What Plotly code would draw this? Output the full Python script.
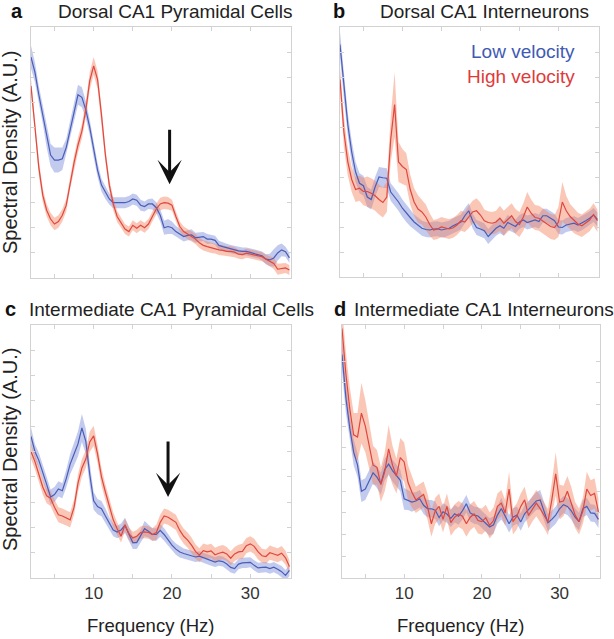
import plotly.graph_objects as go

# ---------------- data ----------------
freq = [2.0 + 0.5 * i for i in range(67)]  # 2.0 ... 35.0 Hz

a_low = [8.8, 8.2, 7.3, 6.5, 5.6, 4.9, 4.7, 4.7, 4.75, 5.2,
         5.9, 6.6, 7.3, 7.2, 6.7, 6.0, 5.1, 4.3, 3.7, 3.4,
         3.15, 3.0, 3.0, 3.0, 3.0, 3.05, 3.15, 3.1, 2.9, 2.85,
         2.95, 2.95, 2.8, 2.5, 2.0, 2.05, 2.0, 1.85, 1.75, 1.65,
         1.7, 1.72, 1.6, 1.62, 1.65, 1.55, 1.55, 1.5, 1.3, 1.25,
         1.2, 1.15, 1.12, 1.08, 1.06, 1.06, 1.02, 0.98, 0.95, 0.88,
         0.75, 0.72, 0.8, 1.0, 1.12, 1.05, 0.8]
a_low_sem = [0.45, 0.4, 0.35, 0.35, 0.4, 0.45, 0.5, 0.5, 0.45, 0.35,
             0.35, 0.35, 0.4, 0.4, 0.35, 0.3, 0.3, 0.28, 0.25, 0.25,
             0.22, 0.22, 0.22, 0.22, 0.22, 0.22, 0.22, 0.22, 0.22, 0.2,
             0.2, 0.22, 0.22, 0.25, 0.28, 0.3, 0.25, 0.22, 0.2, 0.2,
             0.2, 0.22, 0.2, 0.18, 0.18, 0.2, 0.18, 0.18, 0.18, 0.16,
             0.16, 0.16, 0.16, 0.16, 0.16, 0.16, 0.16, 0.16, 0.16, 0.18,
             0.2, 0.25, 0.35, 0.3, 0.25, 0.2, 0.2]
a_high = [7.65, 6.1, 4.4, 3.3, 2.7, 2.35, 2.15, 2.25, 2.5, 2.9,
          3.8, 4.6, 5.3, 5.85, 6.7, 7.85, 8.45, 7.9, 6.5, 4.9,
          3.7, 2.95, 2.45, 2.2, 1.95, 1.85, 2.1, 1.98, 2.1, 2.0,
          2.15, 2.45, 2.75, 2.95, 3.0, 2.98, 2.9, 2.45, 2.05, 1.85,
          1.75, 1.65, 1.55, 1.4, 1.3, 1.25, 1.2, 1.18, 1.12, 1.1,
          1.06, 1.06, 1.03, 0.95, 0.93, 0.99, 0.95, 0.92, 0.88, 0.85,
          0.75, 0.65, 0.58, 0.35, 0.38, 0.4, 0.32]
a_high_sem = [0.3, 0.3, 0.3, 0.28, 0.25, 0.25, 0.25, 0.25, 0.25, 0.25,
              0.25, 0.28, 0.3, 0.3, 0.32, 0.35, 0.35, 0.35, 0.3, 0.28,
              0.25, 0.25, 0.22, 0.2, 0.2, 0.2, 0.2, 0.2, 0.2, 0.2,
              0.2, 0.2, 0.22, 0.25, 0.25, 0.25, 0.22, 0.2, 0.2, 0.2,
              0.2, 0.2, 0.2, 0.2, 0.2, 0.2, 0.2, 0.2, 0.2, 0.2,
              0.2, 0.2, 0.2, 0.18, 0.18, 0.18, 0.18, 0.18, 0.18, 0.18,
              0.18, 0.2, 0.22, 0.22, 0.22, 0.2, 0.2]

b_low = [9.3, 7.6, 6.1, 5.0, 4.2, 3.75, 3.65, 3.2, 3.1, 3.6,
         4.0, 3.97, 3.95, 3.4, 3.2, 3.0, 2.75, 2.55, 2.38, 2.2,
         2.08, 1.95, 1.9, 1.88, 1.92, 1.93, 1.88, 1.9, 1.95, 2.05,
         2.12, 2.2, 2.45, 2.65, 2.25, 1.98, 1.92, 1.85, 1.62, 1.78,
         1.95, 2.05, 1.95, 2.18, 2.1, 2.02, 2.2, 2.28, 2.18, 2.22,
         2.28, 2.22, 2.45, 2.45, 2.35, 2.25, 2.0, 1.98, 2.08, 2.12,
         2.15, 2.08, 2.15, 2.25, 2.35, 2.48, 2.3]
b_low_sem = [0.5, 0.5, 0.45, 0.45, 0.4, 0.4, 0.4, 0.4, 0.4, 0.4,
             0.4, 0.4, 0.4, 0.35, 0.35, 0.35, 0.35, 0.35, 0.35, 0.3,
             0.3, 0.3, 0.3, 0.3, 0.3, 0.3, 0.3, 0.3, 0.3, 0.3,
             0.3, 0.3, 0.3, 0.3, 0.3, 0.3, 0.3, 0.3, 0.3, 0.3,
             0.3, 0.3, 0.3, 0.3, 0.3, 0.28, 0.28, 0.28, 0.28, 0.28,
             0.28, 0.28, 0.28, 0.28, 0.28, 0.28, 0.28, 0.28, 0.28, 0.28,
             0.28, 0.28, 0.28, 0.28, 0.28, 0.28, 0.28]
b_high = [7.9, 5.8, 4.6, 3.9, 3.5, 3.55, 3.42, 3.42, 3.35, 3.25,
          3.1, 2.98, 3.2, 5.5, 6.9, 4.6, 4.42, 4.3, 3.5, 3.0,
          2.72, 2.6, 2.4, 2.1, 1.88, 1.92, 2.0, 1.95, 1.92, 1.97,
          2.08, 2.25, 2.2, 2.4, 2.6, 2.65, 2.48, 2.25, 2.18, 2.15,
          2.2, 2.35, 2.15, 2.3, 2.45, 2.22, 2.1, 2.4, 2.8, 2.55,
          2.38, 2.35, 2.25, 2.12, 2.02, 1.98, 2.2, 3.0, 2.65, 2.42,
          2.25, 2.12, 2.05, 2.15, 2.28, 2.5, 2.25]
b_high_sem = [0.5, 0.6, 0.55, 0.5, 0.5, 0.5, 0.55, 0.6, 0.6, 0.6,
              0.6, 0.6, 0.6, 0.9, 1.3, 0.8, 0.7, 0.65, 0.6, 0.55,
              0.55, 0.5, 0.5, 0.45, 0.4, 0.4, 0.4, 0.4, 0.4, 0.4,
              0.4, 0.4, 0.4, 0.45, 0.45, 0.5, 0.5, 0.45, 0.45, 0.45,
              0.45, 0.5, 0.5, 0.5, 0.5, 0.5, 0.5, 0.55, 0.6, 0.55,
              0.5, 0.5, 0.5, 0.5, 0.5, 0.5, 0.6, 0.8, 0.6, 0.5,
              0.5, 0.45, 0.45, 0.45, 0.45, 0.45, 0.45]

c_low = [5.6, 5.0, 4.65, 4.2, 3.7, 3.2, 3.3, 3.52, 3.45, 3.93,
         4.5, 4.9, 5.3, 5.93, 5.4, 4.1, 3.05, 2.82, 2.74, 2.45,
         2.15, 1.9, 1.82, 1.9, 2.08, 1.75, 1.4, 1.4, 1.65, 1.95,
         1.85, 1.72, 1.72, 1.88, 1.72, 1.5, 1.3, 1.14, 1.03, 0.97,
         0.93, 0.88, 0.83, 0.86, 0.8, 0.73, 0.68, 0.63, 0.68, 0.65,
         0.55, 0.42, 0.37, 0.55, 0.6, 0.6, 0.62, 0.5, 0.4, 0.42,
         0.43, 0.37, 0.43, 0.35, 0.25, 0.1, 0.3]
c_low_sem = [0.35, 0.3, 0.3, 0.3, 0.3, 0.3, 0.3, 0.3, 0.3, 0.35,
             0.4, 0.45, 0.5, 0.55, 0.5, 0.45, 0.35, 0.3, 0.3, 0.3,
             0.25, 0.25, 0.25, 0.25, 0.3, 0.3, 0.25, 0.25, 0.25, 0.3,
             0.25, 0.25, 0.25, 0.25, 0.25, 0.22, 0.22, 0.22, 0.22, 0.2,
             0.2, 0.2, 0.2, 0.2, 0.2, 0.2, 0.2, 0.2, 0.2, 0.2,
             0.2, 0.2, 0.2, 0.2, 0.2, 0.2, 0.2, 0.2, 0.2, 0.2,
             0.2, 0.2, 0.2, 0.2, 0.22, 0.22, 0.22]
c_high = [5.0, 4.6, 4.1, 3.6, 3.25, 3.15, 2.8, 2.5, 2.45, 2.38,
          2.3, 2.8, 3.75, 4.35, 4.7, 5.38, 5.62, 4.9, 4.0, 3.4,
          2.8, 2.3, 1.95, 1.65, 2.1, 1.75, 1.58, 1.65, 1.8, 1.82,
          1.8, 1.72, 1.8, 2.2, 2.45, 2.4, 2.3, 2.2, 1.88, 1.65,
          1.5, 1.3, 1.05, 0.9, 1.08, 1.03, 1.07, 0.92, 0.98, 1.02,
          0.95, 0.78, 0.95, 1.03, 1.05, 1.28, 1.35, 1.25, 1.03, 0.88,
          0.85, 1.0, 0.95, 0.9, 0.98, 0.8, 0.45]
c_high_sem = [0.3, 0.3, 0.3, 0.3, 0.3, 0.3, 0.3, 0.3, 0.3, 0.3,
              0.3, 0.3, 0.35, 0.35, 0.35, 0.4, 0.4, 0.35, 0.35, 0.3,
              0.3, 0.3, 0.25, 0.25, 0.25, 0.25, 0.25, 0.25, 0.25, 0.25,
              0.25, 0.25, 0.3, 0.3, 0.3, 0.3, 0.3, 0.3, 0.3, 0.3,
              0.3, 0.3, 0.28, 0.28, 0.28, 0.28, 0.28, 0.28, 0.28, 0.28,
              0.28, 0.28, 0.28, 0.28, 0.3, 0.3, 0.3, 0.3, 0.3, 0.28,
              0.28, 0.28, 0.28, 0.28, 0.28, 0.28, 0.25]

d_low = [10.3, 8.3, 6.9, 5.8, 5.2, 4.0, 4.1, 4.5, 4.85, 4.65,
         4.35, 5.0, 5.25, 4.95, 4.7, 4.5, 3.65, 3.58, 3.5, 3.55,
         3.65, 3.35, 3.2, 3.19, 3.12, 2.78, 3.05, 2.95, 2.75, 2.96,
         2.85, 3.1, 3.42, 3.0, 2.9, 2.86, 2.7, 2.55, 2.35, 2.45,
         2.9, 3.2, 2.85, 2.5, 2.8, 2.9, 2.58, 2.96, 3.15, 3.35,
         3.55, 3.6, 3.05, 2.55, 2.7, 2.9, 3.19, 3.38, 3.3, 3.1,
         2.8, 2.6, 3.2, 3.3, 3.0, 2.98, 2.7]
d_low_sem = [0.8, 0.7, 0.6, 0.6, 0.55, 0.5, 0.5, 0.5, 0.5, 0.5,
             0.5, 0.5, 0.5, 0.5, 0.5, 0.5, 0.5, 0.45, 0.45, 0.4,
             0.4, 0.4, 0.4, 0.4, 0.4, 0.4, 0.4, 0.4, 0.4, 0.4,
             0.4, 0.4, 0.4, 0.4, 0.4, 0.4, 0.4, 0.4, 0.4, 0.4,
             0.4, 0.5, 0.4, 0.4, 0.4, 0.4, 0.4, 0.4, 0.4, 0.4,
             0.4, 0.45, 0.4, 0.4, 0.4, 0.4, 0.4, 0.4, 0.4, 0.4,
             0.4, 0.4, 0.4, 0.4, 0.4, 0.4, 0.4]
d_high = [11.5, 9.4, 7.8, 6.6, 6.5, 7.6, 7.0, 6.1, 5.2, 5.1,
          4.3, 4.9, 5.95, 5.2, 4.7, 5.55, 5.35, 4.4, 3.95, 3.6,
          3.73, 3.85, 3.3, 2.5, 3.1, 3.3, 2.7, 3.3, 2.55, 2.8,
          2.95, 2.85, 2.5, 2.8, 2.95, 2.65, 2.6, 2.78, 2.42, 2.65,
          3.3, 3.45, 3.0, 4.1, 2.6, 2.85, 3.3, 3.6, 2.88, 3.2,
          3.45, 3.2, 2.9, 2.58, 3.6, 4.8, 3.5, 3.55, 4.0, 3.5,
          2.9, 2.6, 3.1, 4.1, 3.8, 3.9, 3.05]
d_high_sem = [1.0, 1.0, 1.0, 1.0, 1.1, 1.4, 1.2, 1.0, 0.9, 0.8,
              0.8, 0.9, 1.1, 0.9, 0.8, 0.9, 0.9, 0.8, 0.7, 0.6,
              0.6, 0.6, 0.6, 0.6, 0.6, 0.6, 0.6, 0.6, 0.6, 0.6,
              0.6, 0.6, 0.6, 0.6, 0.6, 0.6, 0.6, 0.6, 0.6, 0.6,
              0.6, 0.6, 0.6, 0.8, 0.6, 0.6, 0.6, 0.6, 0.6, 0.6,
              0.6, 0.6, 0.6, 0.6, 0.8, 1.0, 0.8, 0.7, 0.7, 0.7,
              0.6, 0.6, 0.6, 0.8, 0.7, 0.7, 0.6]

panel_letters = ["a", "b", "c", "d"]
panel_titles = ["Dorsal CA1 Pyramidal Cells", "Dorsal CA1 Interneurons",
                "Intermediate CA1 Pyramidal Cells", "Intermediate CA1 Interneurons"]
series_names = ["Low velocity", "High velocity"]
x_tick_vals = [5, 10, 15, 20, 25, 30]
x_tick_text = ["", "10", "", "20", "", "30"]
x_title = "Frequency (Hz)"
y_title = "Spectral Density (A.U.)"
arrow_freq = [19.7, 19.5]      # panels a and c
arrow_top = [5.97, 5.45]
arrow_tip = [3.74, 3.2]

# ---------------- styling ----------------
FONT = "Liberation Sans, Arial, Helvetica, sans-serif"
BLUE = "#4a5db8"
RED = "#e0473f"
BLUE_FILL = "rgba(95,115,210,0.38)"
RED_FILL = "rgba(245,130,95,0.45)"
AX_COL = "#d2d2d2"
W, H = 614, 639

panels = [
    dict(low=a_low, low_sem=a_low_sem, high=a_high, high_sem=a_high_sem,
         xd=[31, 291], yd=[27, 278], yr=[0, 10], yt=list(range(1, 10)), lab=False),
    dict(low=b_low, low_sem=b_low_sem, high=b_high, high_sem=b_high_sem,
         xd=[340, 599], yd=[27, 277], yr=[0, 10], yt=list(range(1, 10)), lab=False),
    dict(low=c_low, low_sem=c_low_sem, high=c_high, high_sem=c_high_sem,
         xd=[31, 291], yd=[325, 578], yr=[0, 10], yt=list(range(1, 10)), lab=True),
    dict(low=d_low, low_sem=d_low_sem, high=d_high, high_sem=d_high_sem,
         xd=[342, 600], yd=[325, 578], yr=[0, 11.66], yt=list(range(1, 11)), lab=True),
]

fig = go.Figure()
layout = dict(width=W, height=H, margin=dict(l=0, r=0, t=0, b=0),
              paper_bgcolor="white", plot_bgcolor="white", showlegend=False,
              font=dict(family=FONT, color="#222"))
annotations = []

for i, p in enumerate(panels):
    n = "" if i == 0 else str(i + 1)
    xref, yref = "x" + n, "y" + n
    for vals, sem, fill_col in [(p["low"], p["low_sem"], BLUE_FILL),
                                (p["high"], p["high_sem"], RED_FILL)]:
        upper = [v + s for v, s in zip(vals, sem)]
        lower = [v - s for v, s in zip(vals, sem)]
        fig.add_trace(go.Scatter(x=freq + freq[::-1], y=upper + lower[::-1],
                                 fill="toself", fillcolor=fill_col, mode="lines",
                                 line=dict(width=0), hoverinfo="skip",
                                 xaxis=xref, yaxis=yref))
    for vals, line_col, name in [(p["low"], BLUE, series_names[0]),
                                 (p["high"], RED, series_names[1])]:
        fig.add_trace(go.Scatter(x=freq, y=vals, mode="lines", name=name,
                                 line=dict(color=line_col, width=1.2),
                                 xaxis=xref, yaxis=yref))
    common = dict(showline=True, linecolor=AX_COL, linewidth=1, mirror="ticks",
                  ticks="inside", ticklen=4, tickcolor=AX_COL, showgrid=False,
                  zeroline=False, fixedrange=True)
    layout["xaxis" + n] = dict(common, domain=[p["xd"][0] / W, p["xd"][1] / W],
                               range=[2, 35.2], anchor=yref,
                               tickmode="array", tickvals=x_tick_vals,
                               ticktext=x_tick_text, showticklabels=p["lab"],
                               tickfont=dict(size=17, color="#333"))
    layout["yaxis" + n] = dict(common, domain=[1 - p["yd"][1] / H, 1 - p["yd"][0] / H],
                               range=p["yr"], anchor=xref, tickmode="array",
                               tickvals=p["yt"], showticklabels=False)

# panel letters and titles
letter_pos = [(9, 11), (331, 11), (3, 309), (332, 309)]
title_pos = [(175, 11), (484, 11), (171, 309), (484, 309)]
for (lx, ly), (tx, ty), let, tt in zip(letter_pos, title_pos, panel_letters, panel_titles):
    annotations.append(dict(x=lx / W, y=1 - ly / H, xref="paper", yref="paper",
                            text="<b>" + let + "</b>", showarrow=False,
                            xanchor="left", yanchor="middle",
                            font=dict(size=20, color="#111")))
    annotations.append(dict(x=tx / W, y=1 - ty / H, xref="paper", yref="paper",
                            text=tt, showarrow=False, xanchor="center", yanchor="middle",
                            font=dict(size=19, color="#222")))

# axis titles
for yc in (153, 450):
    annotations.append(dict(x=10 / W, y=1 - yc / H, xref="paper", yref="paper",
                            text=y_title, textangle=-90, showarrow=False,
                            xanchor="center", yanchor="middle",
                            font=dict(size=20, color="#222")))
for xc in (150, 460):
    annotations.append(dict(x=xc / W, y=1 - 625 / H, xref="paper", yref="paper",
                            text=x_title, showarrow=False, xanchor="center",
                            yanchor="middle", font=dict(size=18.5, color="#222")))

# legend text in panel b
annotations.append(dict(x=577 / W, y=1 - 52 / H, xref="paper", yref="paper",
                        text=series_names[0], showarrow=False, xanchor="right",
                        yanchor="middle", font=dict(size=19, color="#3f5ab5")))
annotations.append(dict(x=577 / W, y=1 - 77 / H, xref="paper", yref="paper",
                        text=series_names[1], showarrow=False, xanchor="right",
                        yanchor="middle", font=dict(size=19, color="#df3a3a")))

# arrows in panels a and c
for k, n in enumerate(["", "3"]):
    annotations.append(dict(x=arrow_freq[k], y=arrow_tip[k], ax=arrow_freq[k],
                            ay=arrow_top[k], xref="x" + n, yref="y" + n,
                            axref="x" + n, ayref="y" + n, text="", showarrow=True,
                            arrowhead=3, arrowsize=1.35, arrowwidth=3,
                            arrowcolor="#111", standoff=0))

layout["annotations"] = annotations
fig.update_layout(**layout)
fig.write_html("out.html", config={"displayModeBar": False},
               post_script="document.body.style.margin='0';")
